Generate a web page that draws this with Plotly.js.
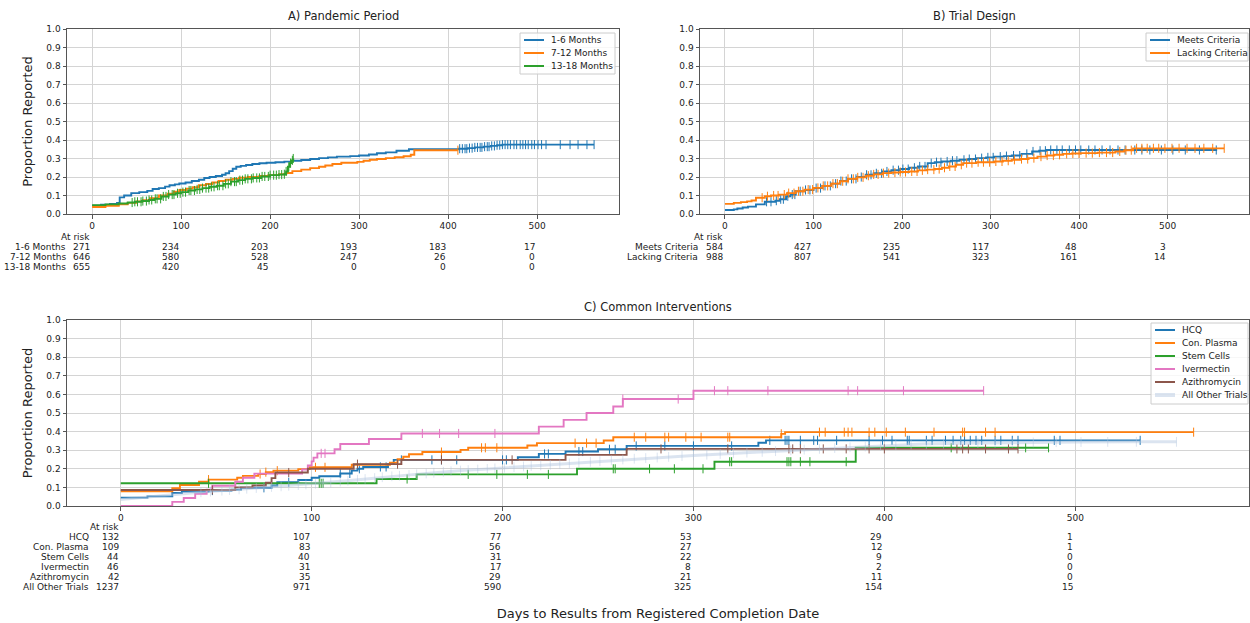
<!DOCTYPE html>
<html><head><meta charset="utf-8">
<script src="https://cdn.plot.ly/plotly-3.0.1.min.js"></script>
<style>html,body{margin:0;padding:0;background:#fff}#chart{width:1250px;height:623px}</style>
</head><body><div id="chart"></div>
<script>
// ================= DATA =================
const dayTicks = [0, 100, 200, 300, 400, 500];
const propTicks = [0, 0.1, 0.2, 0.3, 0.4, 0.5, 0.6, 0.7, 0.8, 0.9, 1.0];

// ---- Panel A: Pandemic Period ----
const aNames = ["1-6 Months", "7-12 Months", "13-18 Months"];
const a1Days = [0, 10, 20, 28, 31, 36, 44, 53, 62, 68, 75, 82, 87, 93, 98, 105, 112, 120, 126, 132, 139, 146, 150, 154, 158, 162, 167, 173, 180, 188, 196, 206, 216, 225, 235, 245, 255, 265, 275, 290, 300, 311, 320, 330, 342, 356, 412, 422, 430, 440, 448, 455, 461, 564];
const a1Prop = [0.045, 0.05, 0.055, 0.06, 0.09, 0.1, 0.113, 0.118, 0.125, 0.135, 0.14, 0.148, 0.155, 0.16, 0.165, 0.17, 0.178, 0.185, 0.195, 0.2, 0.205, 0.212, 0.22, 0.232, 0.245, 0.255, 0.26, 0.265, 0.27, 0.274, 0.277, 0.28, 0.283, 0.288, 0.292, 0.297, 0.302, 0.306, 0.31, 0.313, 0.316, 0.322, 0.328, 0.333, 0.342, 0.35, 0.353, 0.356, 0.36, 0.364, 0.368, 0.372, 0.375, 0.375];
const a1Censor = [413, 416, 419, 421, 424, 427, 430, 433, 436, 438, 441, 444, 446, 449, 452, 455, 458, 461, 464, 467, 470, 474, 477, 481, 484, 487, 490, 494, 497, 501, 505, 510, 526, 537, 546, 556, 564];
const a2Days = [0, 15, 30, 40, 50, 57, 65, 75, 85, 92, 98, 106, 113, 120, 128, 135, 142, 150, 158, 165, 175, 188, 198, 210, 218, 225, 235, 245, 255, 262, 270, 280, 298, 305, 312, 320, 330, 340, 350, 358, 362, 411];
const a2Prop = [0.038, 0.045, 0.053, 0.06, 0.068, 0.075, 0.085, 0.1, 0.11, 0.12, 0.13, 0.137, 0.145, 0.155, 0.162, 0.17, 0.178, 0.185, 0.19, 0.196, 0.2, 0.205, 0.21, 0.215, 0.222, 0.232, 0.24, 0.248, 0.255, 0.262, 0.27, 0.277, 0.282, 0.288, 0.293, 0.297, 0.302, 0.307, 0.312, 0.32, 0.345, 0.345];
const a2Censor = [411];
const a3Days = [0, 15, 30, 40, 48, 56, 64, 70, 78, 86, 94, 100, 108, 116, 124, 132, 140, 148, 156, 164, 172, 180, 190, 200, 210, 216, 218, 220, 222, 224, 226];
const a3Prop = [0.048, 0.052, 0.057, 0.062, 0.066, 0.07, 0.076, 0.082, 0.095, 0.105, 0.112, 0.118, 0.127, 0.133, 0.14, 0.147, 0.153, 0.163, 0.175, 0.183, 0.19, 0.195, 0.203, 0.21, 0.213, 0.215, 0.23, 0.255, 0.275, 0.29, 0.3];
const a3Censor = [45, 48, 51, 55, 57, 61, 64, 67, 71, 73, 77, 80, 83, 86, 90, 92, 96, 99, 102, 105, 109, 111, 115, 118, 121, 124, 128, 131, 134, 137, 141, 143, 147, 150, 153, 156, 160, 162, 166, 169, 172, 175, 179, 181, 185, 188, 191, 194, 198, 200, 204, 207, 210, 213, 216, 218, 221, 223, 225, 226];
const aAtRisk1 = [271, 234, 203, 193, 183, 17];
const aAtRisk2 = [646, 580, 528, 247, 26, 0];
const aAtRisk3 = [655, 420, 45, 0, 0, 0];

// ---- Panel B: Trial Design ----
const bNames = ["Meets Criteria", "Lacking Criteria"];
const b1Days = [0, 10, 14, 20, 26, 35, 45, 57, 62, 69, 74, 80, 90, 100, 110, 120, 130, 139, 149, 159, 168, 178, 188, 198, 208, 218, 229, 237, 245, 255, 265, 275, 284, 295, 304, 315, 324, 335, 347, 355, 363, 556];
const b1Prop = [0.022, 0.025, 0.03, 0.035, 0.04, 0.052, 0.066, 0.072, 0.08, 0.096, 0.105, 0.123, 0.13, 0.14, 0.152, 0.164, 0.178, 0.19, 0.2, 0.212, 0.22, 0.23, 0.237, 0.243, 0.25, 0.257, 0.275, 0.28, 0.284, 0.288, 0.293, 0.297, 0.302, 0.306, 0.31, 0.313, 0.316, 0.325, 0.338, 0.342, 0.346, 0.346];
const b1Censor = [47, 52, 58, 63, 66, 71, 76, 79, 85, 91, 96, 103, 108, 113, 119, 125, 131, 137, 143, 148, 154, 160, 165, 171, 177, 183, 190, 196, 201, 207, 214, 220, 226, 233, 239, 244, 251, 257, 262, 270, 276, 283, 290, 297, 303, 311, 318, 326, 333, 341, 348, 356, 362, 368, 375, 381, 389, 396, 402, 411, 418, 426, 435, 444, 452, 463, 471, 480, 493, 506, 520, 536, 555];
const b2Days = [0, 10, 18, 25, 30, 35, 45, 52, 61, 70, 80, 90, 100, 110, 120, 130, 139, 149, 159, 168, 178, 188, 198, 208, 218, 228, 237, 245, 253, 261, 269, 284, 304, 314, 324, 334, 343, 353, 363, 372, 382, 392, 402, 421, 441, 451, 461, 564];
const b2Prop = [0.055, 0.06, 0.064, 0.068, 0.073, 0.088, 0.096, 0.1, 0.105, 0.113, 0.123, 0.132, 0.141, 0.152, 0.164, 0.177, 0.19, 0.198, 0.207, 0.214, 0.221, 0.224, 0.227, 0.23, 0.236, 0.24, 0.243, 0.25, 0.257, 0.266, 0.275, 0.28, 0.284, 0.288, 0.293, 0.297, 0.302, 0.31, 0.316, 0.32, 0.325, 0.327, 0.329, 0.332, 0.338, 0.345, 0.355, 0.355];
const b2Censor = [42, 48, 55, 60, 67, 72, 78, 83, 88, 94, 99, 105, 111, 116, 122, 127, 133, 139, 145, 150, 156, 162, 168, 173, 179, 185, 192, 198, 204, 211, 217, 223, 229, 236, 242, 248, 254, 260, 267, 273, 279, 286, 292, 299, 306, 313, 320, 327, 335, 342, 349, 357, 364, 371, 378, 386, 393, 400, 408, 415, 423, 431, 438, 446, 453, 459, 465, 471, 477, 484, 490, 497, 505, 513, 522, 531, 541, 551, 564];
const bAtRisk1 = [584, 427, 235, 117, 48, 3];
const bAtRisk2 = [988, 807, 541, 323, 161, 14];

// ---- Panel C: Common Interventions ----
const cNames = ["HCQ", "Con. Plasma", "Stem Cells", "Ivermectin", "Azithromycin", "All Other Trials"];
const c1Days = [0, 14, 27, 32, 46, 58, 63, 79, 82, 93, 100, 104, 115, 121, 124, 127, 140, 143, 208, 219, 233, 250, 265, 334, 338, 534];
const c1Prop = [0.045, 0.052, 0.07, 0.078, 0.083, 0.088, 0.098, 0.11, 0.128, 0.14, 0.152, 0.16, 0.175, 0.19, 0.2, 0.21, 0.225, 0.248, 0.262, 0.28, 0.293, 0.305, 0.323, 0.34, 0.353, 0.353];
const c1Censor = [48, 75, 88, 115, 120, 125, 136, 139, 147, 163, 168, 176, 200, 202, 222, 224, 240, 242, 256, 259, 270, 285, 300, 320, 340, 348, 349, 350, 356, 363, 365, 375, 392, 399, 404, 412, 413, 422, 425, 432, 436, 440, 442, 445, 448, 451, 458, 461, 467, 470, 489, 492, 534];
const c2Days = [0, 27, 31, 41, 46, 61, 64, 72, 76, 80, 93, 99, 121, 141, 145, 148, 151, 158, 178, 182, 213, 218, 253, 258, 346, 348, 562];
const c2Prop = [0.079, 0.096, 0.113, 0.13, 0.142, 0.152, 0.162, 0.172, 0.182, 0.19, 0.198, 0.208, 0.222, 0.233, 0.251, 0.265, 0.278, 0.29, 0.302, 0.313, 0.325, 0.338, 0.352, 0.37, 0.388, 0.397, 0.397];
const c2Censor = [46, 73, 76, 82, 102, 107, 168, 189, 191, 197, 238, 244, 249, 269, 275, 285, 287, 296, 304, 318, 319, 346, 366, 369, 379, 381, 383, 392, 395, 401, 411, 426, 441, 442, 453, 458, 562];
const c3Days = [0, 134, 155, 239, 311, 385, 486];
const c3Prop = [0.122, 0.145, 0.17, 0.2, 0.238, 0.313, 0.313];
const c3Censor = [46, 104, 105, 106, 150, 182, 197, 213, 224, 258, 259, 277, 290, 305, 319, 320, 349, 350, 351, 356, 361, 380, 435, 474, 486];
const c4Days = [0, 27, 33, 39, 45, 48, 60, 64, 70, 95, 98, 100, 101, 103, 112, 115, 130, 147, 219, 232, 244, 258, 263, 300, 452];
const c4Prop = [0, 0.022, 0.043, 0.065, 0.087, 0.109, 0.13, 0.152, 0.174, 0.196, 0.218, 0.24, 0.26, 0.283, 0.305, 0.333, 0.36, 0.39, 0.427, 0.463, 0.5, 0.535, 0.575, 0.62, 0.62];
const c4Censor = [105, 107, 158, 167, 177, 196, 263, 292, 311, 318, 339, 381, 386, 410, 452];
const c5Days = [0, 60, 69, 76, 79, 81, 98, 122, 147, 233, 265, 470];
const c5Prop = [0.086, 0.1, 0.11, 0.125, 0.15, 0.18, 0.2, 0.225, 0.248, 0.275, 0.307, 0.307];
const c5Censor = [48, 88, 124, 145, 168, 205, 283, 318, 350, 352, 356, 368, 380, 392, 400, 438, 441, 444, 453, 465, 470];
const c6Days = [0, 10, 20, 30, 40, 50, 60, 70, 80, 90, 100, 110, 120, 130, 140, 150, 160, 170, 180, 190, 200, 210, 220, 230, 240, 250, 260, 270, 280, 290, 300, 315, 330, 345, 360, 375, 390, 405, 420, 440, 460, 480, 500, 530, 553];
const c6Prop = [0.035, 0.045, 0.055, 0.063, 0.072, 0.08, 0.088, 0.096, 0.103, 0.11, 0.118, 0.126, 0.137, 0.147, 0.158, 0.166, 0.175, 0.185, 0.192, 0.198, 0.205, 0.212, 0.218, 0.225, 0.233, 0.24, 0.248, 0.255, 0.26, 0.266, 0.272, 0.28, 0.288, 0.296, 0.304, 0.312, 0.32, 0.327, 0.333, 0.337, 0.34, 0.342, 0.344, 0.345, 0.345];
const c6Censor = [42, 47, 53, 57, 62, 66, 71, 75, 79, 84, 88, 93, 97, 102, 106, 110, 115, 119, 124, 128, 133, 137, 142, 146, 151, 155, 160, 164, 169, 173, 178, 182, 187, 192, 196, 201, 206, 211, 215, 220, 225, 230, 235, 240, 246, 251, 257, 263, 269, 275, 281, 287, 294, 300, 307, 314, 321, 328, 336, 343, 351, 358, 366, 374, 382, 390, 398, 406, 414, 422, 431, 440, 449, 458, 467, 478, 490, 503, 517, 532, 553];
const cAtRisk1 = [132, 107, 77, 53, 29, 1];
const cAtRisk2 = [109, 83, 56, 27, 12, 1];
const cAtRisk3 = [44, 40, 31, 22, 9, 0];
const cAtRisk4 = [46, 31, 17, 8, 2, 0];
const cAtRisk5 = [42, 35, 29, 21, 11, 0];
const cAtRisk6 = [1237, 971, 590, 325, 154, 15];

// ================= STYLE / LAYOUT =================
const W = 1250, H = 623;
const FONT = "DejaVu Sans, Liberation Sans, sans-serif";
const TXT = "#222";
const BLUE = "#1f77b4", ORANGE = "#ff7f0e", GREEN = "#2ca02c", PINK = "#e377c2", BROWN = "#8c564b";
const LIGHT = "rgba(176,196,222,0.45)";
const px = v => v / W;
const py = v => 1 - v / H;

function stepAt(ts, ys, t) { let v = ys[0]; for (let i = 0; i < ts.length; i++) { if (ts[i] <= t) v = ys[i]; } return v; }
function linAt(ts, ys, t) {
  for (let i = 1; i < ts.length; i++) { if (t <= ts[i]) { const f = (t - ts[i-1]) / (ts[i] - ts[i-1]); return ys[i-1] + f * (ys[i] - ys[i-1]); } }
  return ys[ys.length - 1];
}

const traces = [];
function addSeries(name, days, prop, censor, color, xa, ya, opts) {
  opts = opts || {};
  traces.push({ x: days, y: prop, name: name, mode: "lines", xaxis: xa, yaxis: ya, showlegend: false,
    line: { color: color, width: opts.width || 1.9, shape: opts.shape || "hv" }, hoverinfo: "skip" });
  const look = opts.shape === "linear" ? linAt : stepAt;
  traces.push({ x: censor, y: censor.map(t => look(days, prop, t)), mode: "markers", xaxis: xa, yaxis: ya, showlegend: false,
    marker: { symbol: "line-ns", size: opts.msize || 6.5, color: color, line: { color: color, width: 1 } }, hoverinfo: "skip" });
}

addSeries(aNames[0], a1Days, a1Prop, a1Censor, BLUE, "x", "y");
addSeries(aNames[1], a2Days, a2Prop, a2Censor, ORANGE, "x", "y");
addSeries(aNames[2], a3Days, a3Prop, a3Censor, GREEN, "x", "y");
addSeries(bNames[0], b1Days, b1Prop, b1Censor, BLUE, "x2", "y2");
addSeries(bNames[1], b2Days, b2Prop, b2Censor, ORANGE, "x2", "y2");
addSeries(cNames[0], c1Days, c1Prop, c1Censor, BLUE, "x3", "y3");
addSeries(cNames[1], c2Days, c2Prop, c2Censor, ORANGE, "x3", "y3");
addSeries(cNames[2], c3Days, c3Prop, c3Censor, GREEN, "x3", "y3");
addSeries(cNames[3], c4Days, c4Prop, c4Censor, PINK, "x3", "y3");
addSeries(cNames[4], c5Days, c5Prop, c5Censor, BROWN, "x3", "y3");
addSeries(cNames[5], c6Days, c6Prop, c6Censor, LIGHT, "x3", "y3", { width: 3, shape: "linear", msize: 7 });

const annotations = [];
const shapes = [];

function atRisk(xref, headerY, rows, labelX) {
  annotations.push({ xref: xref, yref: "paper", x: 0, y: py(headerY), text: "At risk", showarrow: false,
    xanchor: "right", yanchor: "middle", font: { family: FONT, size: 9, color: TXT } });
  rows.forEach((r, i) => {
    const yy = py(headerY + 10 * (i + 1));
    annotations.push({ xref: "paper", yref: "paper", x: px(labelX), y: yy, text: r.label, showarrow: false,
      xanchor: "right", yanchor: "middle", font: { family: FONT, size: 9, color: TXT } });
    r.counts.forEach((c, j) => {
      annotations.push({ xref: xref, yref: "paper", x: dayTicks[j], y: yy, text: String(c), showarrow: false,
        xanchor: "right", yanchor: "middle", font: { family: FONT, size: 9, color: TXT } });
    });
  });
}
atRisk("x", 237, [{ label: aNames[0], counts: aAtRisk1 }, { label: aNames[1], counts: aAtRisk2 }, { label: aNames[2], counts: aAtRisk3 }], 68);
atRisk("x2", 237, [{ label: bNames[0], counts: bAtRisk1 }, { label: bNames[1], counts: bAtRisk2 }], 700);
atRisk("x3", 527, [
  { label: cNames[0], counts: cAtRisk1 }, { label: cNames[1], counts: cAtRisk2 }, { label: cNames[2], counts: cAtRisk3 },
  { label: cNames[3], counts: cAtRisk4 }, { label: cNames[4], counts: cAtRisk5 }, { label: cNames[5], counts: cAtRisk6 }], 91);

function legendBox(box, items) {
  shapes.push({ type: "rect", xref: "paper", yref: "paper", x0: px(box.x0), x1: px(box.x1), y0: py(box.y1), y1: py(box.y0),
    fillcolor: "rgba(255,255,255,0.8)", line: { color: "#cccccc", width: 1 }, layer: "above" });
  items.forEach((it, i) => {
    const yy = box.y0 + 7 + 13 * i;
    shapes.push({ type: "line", xref: "paper", yref: "paper", x0: px(box.x0 + 4), x1: px(box.x0 + 24), y0: py(yy), y1: py(yy),
      line: { color: it.color, width: it.width || 2 }, layer: "above" });
    annotations.push({ xref: "paper", yref: "paper", x: px(box.x0 + 29), y: py(yy), text: it.name, showarrow: false,
      xanchor: "left", yanchor: "middle", font: { family: FONT, size: 9, color: TXT } });
  });
}
legendBox({ x0: 520, y0: 33, x1: 615, y1: 74 }, [{ name: aNames[0], color: BLUE }, { name: aNames[1], color: ORANGE }, { name: aNames[2], color: GREEN }]);
legendBox({ x0: 1146, y0: 33, x1: 1248, y1: 61 }, [{ name: bNames[0], color: BLUE }, { name: bNames[1], color: ORANGE }]);
legendBox({ x0: 1151, y0: 323, x1: 1248, y1: 404 }, [
  { name: cNames[0], color: BLUE }, { name: cNames[1], color: ORANGE }, { name: cNames[2], color: GREEN },
  { name: cNames[3], color: PINK }, { name: cNames[4], color: BROWN }, { name: cNames[5], color: LIGHT, width: 4 }]);

function title(text, xc, yc) {
  annotations.push({ xref: "paper", yref: "paper", x: px(xc), y: py(yc), text: text, showarrow: false,
    xanchor: "center", yanchor: "middle", font: { family: FONT, size: 11.5, color: TXT } });
}
title("A) Pandemic Period", 343, 16);
title("B) Trial Design", 974, 16);
title("C) Common Interventions", 658, 307);

function xAxis(domain, anchor, extra) {
  return Object.assign({ domain: domain, anchor: anchor, range: [-28.2, 592], tickvals: dayTicks, ticktext: dayTicks.map(String),
    showgrid: true, gridcolor: "#d4d4d4", gridwidth: 1, zeroline: false, showline: true, mirror: true, linecolor: "#555", linewidth: 1,
    ticks: "outside", ticklen: 3.5, tickcolor: "#555", tickfont: { family: FONT, size: 9, color: TXT }, fixedrange: true }, extra || {});
}
function yAxis(domain, anchor, extra) {
  return Object.assign({ domain: domain, anchor: anchor, range: [0, 1], tickvals: propTicks, tickformat: ".1f",
    showgrid: true, gridcolor: "#d4d4d4", gridwidth: 1, zeroline: false, showline: true, mirror: true, linecolor: "#555", linewidth: 1,
    ticks: "outside", ticklen: 3.5, tickcolor: "#555", tickfont: { family: FONT, size: 9, color: TXT }, fixedrange: true }, extra || {});
}
const yTitle = { text: "Proportion Reported", font: { family: FONT, size: 13, color: TXT }, standoff: 10 };

const layout = {
  width: W, height: H, margin: { l: 0, r: 0, t: 0, b: 0 }, paper_bgcolor: "#fff", plot_bgcolor: "#fff",
  showlegend: false, font: { family: FONT, color: TXT },
  xaxis: xAxis([px(67), px(619)], "y"),
  yaxis: yAxis([py(214), py(29)], "x", { title: yTitle }),
  xaxis2: xAxis([px(700), px(1249)], "y2"),
  yaxis2: yAxis([py(214), py(29)], "x2"),
  xaxis3: xAxis([px(67), px(1249)], "y3", { range: [-28.15, 591], title: { text: "Days to Results from Registered Completion Date", font: { family: FONT, size: 13, color: TXT }, standoff: 86 } }),
  yaxis3: yAxis([py(506), py(320)], "x3", { title: yTitle }),
  annotations: annotations, shapes: shapes
};

Plotly.newPlot("chart", traces, layout, { staticPlot: true, displayModeBar: false });
</script>
</body></html>
